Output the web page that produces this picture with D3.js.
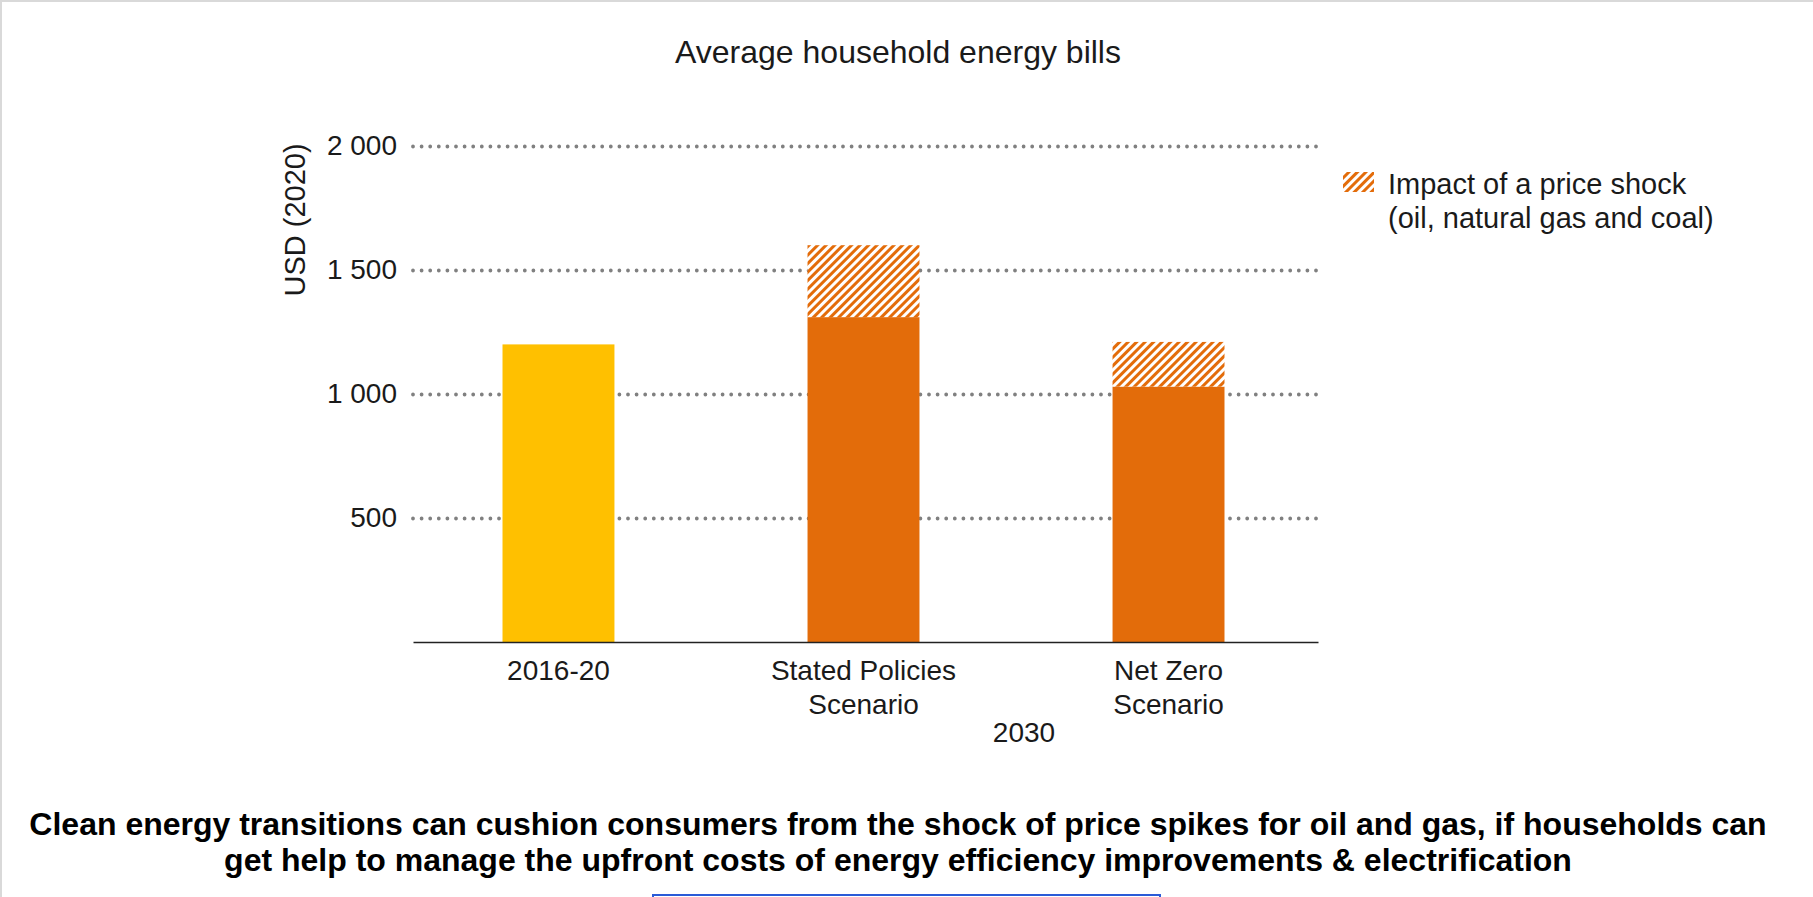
<!DOCTYPE html>
<html>
<head>
<meta charset="utf-8">
<script src="https://cdn.jsdelivr.net/npm/d3@7"></script>
<style>
    body { margin: 0; background: #fff; }
    svg { display: block; font-family: "Liberation Sans", Arial, sans-serif; }
    .grid line { stroke: #808080; stroke-width: 3.8; stroke-dasharray: 0, 8.6; stroke-linecap: round; }
    .label { fill: #1a1a1a; }
</style>
</head>
<body>
<svg></svg>
<script>
// chart data
var categories = ['2016-20', 'Stated Policies\nScenario', 'Net Zero\nScenario']
var baseValues = [1200, 1310, 1030]
var shockValues = [0, 290, 180]
var yTicks = [500, 1000, 1500, 2000]
var groupLabel = '2030'

document.addEventListener('DOMContentLoaded', () => {
    var width = 1813
    var height = 897
    var left = 413, right = 1318, top = 146, bottom = 642

    var svg = d3.select('svg')
        .attr('width', width)
        .attr('height', height)

    // frame
    svg.append('rect')
        .attr('x', 1).attr('y', 1)
        .attr('width', width + 10).attr('height', height + 10)
        .attr('fill', 'none')
        .attr('stroke', '#d9d9d9')
        .attr('stroke-width', 2)

    // hatch pattern
    var pattern = svg.append('defs')
        .append('pattern')
            .attr('id', 'hatch')
            .attr('patternUnits', 'userSpaceOnUse')
            .attr('width', 6)
            .attr('height', 6)
            .attr('patternTransform', 'rotate(45)')
    pattern.append('rect').attr('width', 6).attr('height', 6).attr('fill', '#fff')
    pattern.append('rect').attr('width', 3).attr('height', 6).attr('fill', '#e36c0a')

    var fmt = d3.formatLocale({ decimal: '.', thousands: ' ', grouping: [3], currency: ['', ''] }).format(',')

    var yScale = d3.scaleLinear()
        .domain([0, 2000])
        .range([bottom, top])

    var xScale = d3.scaleBand()
        .domain(categories)
        .range([left - 2, right - 2])
        .paddingInner(0.633)
        .paddingOuter(0.3)

    // grid + y labels
    var yAxis = d3.axisLeft(yScale)
        .tickValues(yTicks)
        .tickSize(-(right - left))
        .tickPadding(16)
        .tickFormat(fmt)

    var gy = svg.append('g')
        .attr('class', 'grid')
        .attr('transform', 'translate(' + left + ',0)')
        .call(yAxis)
    gy.select('.domain').remove()
    gy.selectAll('text')
        .attr('class', 'label')
        .style('font-size', '28px')
        .style('font-family', '"Liberation Sans", Arial, sans-serif')

    // bars
    var barColors = ['#ffc000', '#e36c0a', '#e36c0a']
    svg.append('g')
        .selectAll('rect')
        .data(categories)
        .enter()
        .append('rect')
            .attr('x', d => xScale(d))
            .attr('width', xScale.bandwidth())
            .attr('y', (d, i) => yScale(baseValues[i]))
            .attr('height', (d, i) => yScale(0) - yScale(baseValues[i]))
            .attr('fill', (d, i) => barColors[i])

    svg.append('g')
        .selectAll('rect')
        .data(categories.filter((d, i) => shockValues[i] > 0))
        .enter()
        .append('rect')
            .attr('x', d => xScale(d))
            .attr('width', xScale.bandwidth())
            .attr('y', d => { var i = categories.indexOf(d); return yScale(baseValues[i] + shockValues[i]) })
            .attr('height', d => { var i = categories.indexOf(d); return yScale(baseValues[i]) - yScale(baseValues[i] + shockValues[i]) })
            .attr('fill', 'url(#hatch)')

    // x axis line
    var gx = svg.append('g')
        .attr('transform', 'translate(0,' + bottom + ')')
        .call(d3.axisBottom(d3.scaleLinear().range([left, right])).ticks(0).tickSizeOuter(0))
    gx.select('.domain').attr('stroke', '#222').attr('stroke-width', 1.5)

    svg.append('g')
        .selectAll('text')
        .data(categories)
        .enter()
        .append('text')
            .attr('class', 'label')
            .attr('text-anchor', 'middle')
            .attr('x', d => xScale(d) + xScale.bandwidth() / 2)
            .attr('y', bottom + 38)
            .style('font-size', '28px')
            .selectAll('tspan')
            .data(d => d.split('\n'))
            .enter()
            .append('tspan')
                .attr('x', function () { return this.parentNode.getAttribute('x') })
                .attr('dy', (d, i) => i === 0 ? 0 : 34)
                .text(d => d)

    svg.append('text')
        .attr('class', 'label')
        .attr('text-anchor', 'middle')
        .attr('x', (xScale(categories[1]) + xScale(categories[2]) + xScale.bandwidth()) / 2 + 8)
        .attr('y', bottom + 100)
        .style('font-size', '28px')
        .text(groupLabel)

    // y axis label
    svg.append('text')
        .attr('class', 'label')
        .attr('text-anchor', 'middle')
        .attr('transform', 'translate(305,220) rotate(-90)')
        .style('font-size', '29px')
        .text('USD (2020)')

    // title
    svg.append('text')
        .attr('class', 'label')
        .attr('text-anchor', 'middle')
        .attr('x', 898)
        .attr('y', 63)
        .style('font-size', '32px')
        .text('Average household energy bills')

    // legend
    svg.append('rect')
        .attr('x', 1343).attr('y', 172)
        .attr('width', 31).attr('height', 20)
        .attr('fill', 'url(#hatch)')
    svg.append('text')
        .attr('class', 'label')
        .attr('x', 1388)
        .attr('y', 194)
        .style('font-size', '29px')
        .selectAll('tspan')
        .data(['Impact of a price shock', '(oil, natural gas and coal)'])
        .enter()
        .append('tspan')
            .attr('x', 1388)
            .attr('dy', (d, i) => i === 0 ? 0 : 34)
            .text(d => d)

    // caption
    svg.append('text')
        .attr('class', 'label')
        .attr('text-anchor', 'middle')
        .attr('y', 835)
        .style('font-size', '32px')
        .style('font-weight', 'bold')
        .style('fill', '#000')
        .selectAll('tspan')
        .data(['Clean energy transitions can cushion consumers from the shock of price spikes for oil and gas, if households can',
               'get help to manage the upfront costs of energy efficiency improvements & electrification'])
        .enter()
        .append('tspan')
            .attr('x', 898)
            .attr('dy', (d, i) => i === 0 ? 0 : 36)
            .text(d => d)

    // bottom button edge
    svg.append('rect')
        .attr('x', 653).attr('y', 895)
        .attr('width', 507).attr('height', 10)
        .attr('fill', '#fff')
        .attr('stroke', '#2a5bd7')
        .attr('stroke-width', 2)
})
</script>
</body>
</html>
